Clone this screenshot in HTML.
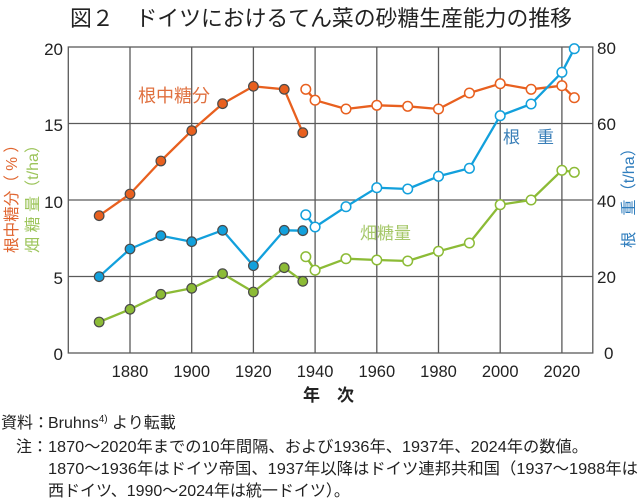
<!DOCTYPE html>
<html>
<head>
<meta charset="utf-8">
<style>
  html,body{margin:0;padding:0;background:#fff;}
  body{width:640px;height:500px;overflow:hidden;}
  svg{display:block;}
  .jp{font-family:"Liberation Sans","Noto Sans CJK JP",sans-serif;}
  .num{font-family:"Liberation Sans",sans-serif;}
</style>
</head>
<body>
<svg width="640" height="500" viewBox="0 0 640 500" xmlns="http://www.w3.org/2000/svg">
  <!-- Title -->
  <text class="jp" x="321" y="26" font-size="22" text-anchor="middle" fill="#222" textLength="502" lengthAdjust="spacingAndGlyphs">図２　ドイツにおけるてん菜の砂糖生産能力の推移</text>

  <!-- Grid -->
  <g stroke="#5a5a5a" stroke-width="1.3" fill="none">
    <rect x="68.3" y="47" width="524.5" height="306"/>
    <line x1="68.3" y1="123.5" x2="592.8" y2="123.5"/>
    <line x1="68.3" y1="200" x2="592.8" y2="200"/>
    <line x1="68.3" y1="276.5" x2="592.8" y2="276.5"/>
    <line x1="130" y1="47" x2="130" y2="353"/>
    <line x1="191.7" y1="47" x2="191.7" y2="353"/>
    <line x1="253.4" y1="47" x2="253.4" y2="353"/>
    <line x1="315.1" y1="47" x2="315.1" y2="353"/>
    <line x1="376.8" y1="47" x2="376.8" y2="353"/>
    <line x1="438.5" y1="47" x2="438.5" y2="353"/>
    <line x1="500.2" y1="47" x2="500.2" y2="353"/>
    <line x1="561.9" y1="47" x2="561.9" y2="353"/>
  </g>

  <!-- Left ticks -->
  <g class="num" font-size="17" fill="#222" text-anchor="end">
    <text x="63" y="55">20</text>
    <text x="63" y="131">15</text>
    <text x="63" y="208">10</text>
    <text x="63" y="284">5</text>
    <text x="63" y="360">0</text>
  </g>
  <!-- Right ticks -->
  <g class="num" font-size="17" fill="#222" text-anchor="start">
    <text x="597" y="54">80</text>
    <text x="597" y="130">60</text>
    <text x="597" y="207">40</text>
    <text x="597" y="283">20</text>
    <text x="604" y="359">0</text>
  </g>
  <!-- X ticks -->
  <g class="num" font-size="16.5" fill="#222" text-anchor="middle">
    <text x="130" y="377">1880</text>
    <text x="191.7" y="377">1900</text>
    <text x="253.4" y="377">1920</text>
    <text x="315.1" y="377">1940</text>
    <text x="376.8" y="377">1960</text>
    <text x="438.5" y="377">1980</text>
    <text x="500.2" y="377">2000</text>
    <text x="561.9" y="377">2020</text>
  </g>
  <text class="jp" x="303" y="401" font-size="17" font-weight="bold" fill="#222">年　次</text>

  <!-- Axis titles -->
  <text class="jp" transform="translate(17,195) rotate(-90)" font-size="16" fill="#e0652f" text-anchor="middle" textLength="116" lengthAdjust="spacingAndGlyphs">根中糖分（ % ）</text>
  <text class="jp" transform="translate(38,195) rotate(-90)" font-size="16" fill="#9cc45a" text-anchor="middle" textLength="116" lengthAdjust="spacingAndGlyphs">畑 糖 量（t/ha）</text>
  <text class="jp" transform="translate(634,194) rotate(-90)" font-size="16" fill="#2f7dbd" text-anchor="middle" textLength="108" lengthAdjust="spacingAndGlyphs">根　重（t/ha）</text>

  <!-- In-plot labels -->
  <text class="jp" x="138" y="102" font-size="18" fill="#e0703f">根中糖分</text>
  <text class="jp" x="503" y="143" font-size="17" fill="#3a7fb8">根　重</text>
  <text class="jp" x="360" y="239" font-size="17" fill="#a6c86a">畑糖量</text>

  <!-- Series lines -->
  <g fill="none" stroke-width="2.3" stroke-linejoin="round">
    <!-- Orange -->
    <polyline stroke="#e8601f" points="99.15,215.7 130,194 160.85,161 191.7,130.7 222.55,103.7 253.4,86.3 284.25,89.3 302.8,132.7"/>
    <polyline stroke="#e8601f" points="305.8,89.3 315.1,100.2 346,109 376.8,105.3 407.7,106.3 438.5,109 469.4,93 500.2,83.7 531.1,89.3 561.9,85.7 574.3,97.7"/>
    <!-- Blue -->
    <polyline stroke="#12a0dc" points="99.15,276.7 130,249 160.85,235.7 191.7,241.7 222.55,230.3 253.4,265.7 284.25,230.3 302.8,230.7"/>
    <polyline stroke="#12a0dc" points="305.8,214.8 315.1,227 346,206.7 376.8,187.7 407.7,189 438.5,176.3 469.4,168.3 500.2,115.7 531.1,104 561.9,72.3 574.3,48.7"/>
    <!-- Green -->
    <polyline stroke="#8cbb36" points="99.15,322 130,309.3 160.85,294.3 191.7,288.3 222.55,273.7 253.4,292 284.25,267.7 302.8,281.3"/>
    <polyline stroke="#8cbb36" points="305.8,256.7 315.1,270.2 346,258.7 376.8,260 407.7,261 438.5,251.3 469.4,243 500.2,204.7 531.1,200 561.9,170.3 574.3,172.3"/>
  </g>

  <!-- Filled markers -->
  <g stroke="#4a4a4a" stroke-width="1.2">
    <g fill="#e8601f">
      <circle cx="99.15" cy="215.7" r="4.8"/><circle cx="130" cy="194" r="4.8"/><circle cx="160.85" cy="161" r="4.8"/><circle cx="191.7" cy="130.7" r="4.8"/><circle cx="222.55" cy="103.7" r="4.8"/><circle cx="253.4" cy="86.3" r="4.8"/><circle cx="284.25" cy="89.3" r="4.8"/><circle cx="302.8" cy="132.7" r="4.8"/>
    </g>
    <g fill="#12a0dc">
      <circle cx="99.15" cy="276.7" r="4.8"/><circle cx="130" cy="249" r="4.8"/><circle cx="160.85" cy="235.7" r="4.8"/><circle cx="191.7" cy="241.7" r="4.8"/><circle cx="222.55" cy="230.3" r="4.8"/><circle cx="253.4" cy="265.7" r="4.8"/><circle cx="284.25" cy="230.3" r="4.8"/><circle cx="302.8" cy="230.7" r="4.8"/>
    </g>
    <g fill="#8cbb36">
      <circle cx="99.15" cy="322" r="4.8"/><circle cx="130" cy="309.3" r="4.8"/><circle cx="160.85" cy="294.3" r="4.8"/><circle cx="191.7" cy="288.3" r="4.8"/><circle cx="222.55" cy="273.7" r="4.8"/><circle cx="253.4" cy="292" r="4.8"/><circle cx="284.25" cy="267.7" r="4.8"/><circle cx="302.8" cy="281.3" r="4.8"/>
    </g>
  </g>

  <!-- Open markers -->
  <g fill="#fff" stroke-width="1.5">
    <g stroke="#e8601f">
      <circle cx="305.8" cy="89.3" r="4.8"/><circle cx="315.1" cy="100.2" r="4.8"/><circle cx="346" cy="109" r="4.8"/><circle cx="376.8" cy="105.3" r="4.8"/><circle cx="407.7" cy="106.3" r="4.8"/><circle cx="438.5" cy="109" r="4.8"/><circle cx="469.4" cy="93" r="4.8"/><circle cx="500.2" cy="83.7" r="4.8"/><circle cx="531.1" cy="89.3" r="4.8"/><circle cx="561.9" cy="85.7" r="4.8"/><circle cx="574.3" cy="97.7" r="4.8"/>
    </g>
    <g stroke="#12a0dc">
      <circle cx="305.8" cy="214.8" r="4.8"/><circle cx="315.1" cy="227" r="4.8"/><circle cx="346" cy="206.7" r="4.8"/><circle cx="376.8" cy="187.7" r="4.8"/><circle cx="407.7" cy="189" r="4.8"/><circle cx="438.5" cy="176.3" r="4.8"/><circle cx="469.4" cy="168.3" r="4.8"/><circle cx="500.2" cy="115.7" r="4.8"/><circle cx="531.1" cy="104" r="4.8"/><circle cx="561.9" cy="72.3" r="4.8"/><circle cx="574.3" cy="48.7" r="4.8"/>
    </g>
    <g stroke="#8cbb36">
      <circle cx="305.8" cy="256.7" r="4.8"/><circle cx="315.1" cy="270.2" r="4.8"/><circle cx="346" cy="258.7" r="4.8"/><circle cx="376.8" cy="260" r="4.8"/><circle cx="407.7" cy="261" r="4.8"/><circle cx="438.5" cy="251.3" r="4.8"/><circle cx="469.4" cy="243" r="4.8"/><circle cx="500.2" cy="204.7" r="4.8"/><circle cx="531.1" cy="200" r="4.8"/><circle cx="561.9" cy="170.3" r="4.8"/><circle cx="574.3" cy="172.3" r="4.8"/>
    </g>
  </g>

  <!-- Footer -->
  <g class="jp" font-size="16" fill="#222">
    <text x="1" y="428">資料：</text>
    <text x="48" y="428">Bruhns<tspan font-size="10" dy="-6">4)</tspan><tspan dy="6"> より転載</tspan></text>
    <text x="16" y="452">注：</text>
    <text x="48" y="452" textLength="540" lengthAdjust="spacingAndGlyphs">1870～2020年までの10年間隔、および1936年、1937年、2024年の数値。</text>
    <text x="48" y="474" textLength="590" lengthAdjust="spacingAndGlyphs">1870～1936年はドイツ帝国、1937年以降はドイツ連邦共和国（1937～1988年は</text>
    <text x="48" y="496">西ドイツ、1990～2024年は統一ドイツ）。</text>
  </g>
</svg>
</body>
</html>
